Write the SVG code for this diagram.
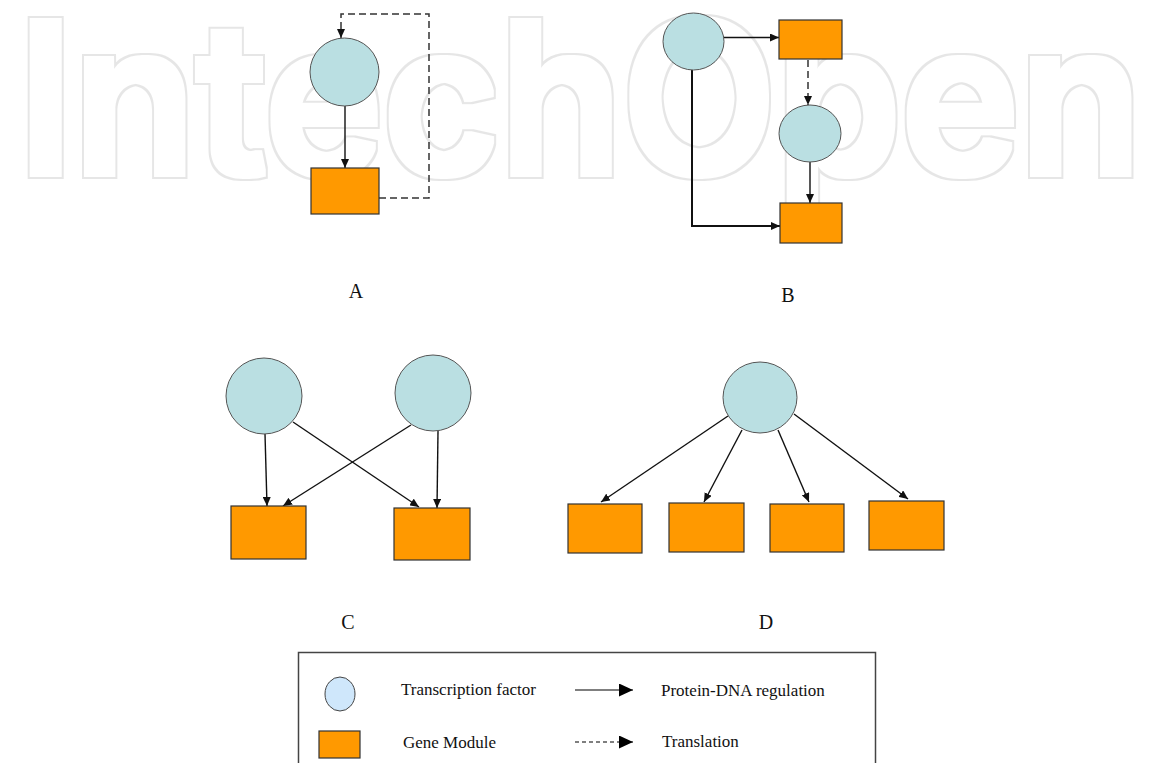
<svg xmlns="http://www.w3.org/2000/svg" width="1151" height="763" viewBox="0 0 1151 763">
<style>
.tf{fill:#badfe2;stroke:#555;stroke-width:1}
.gm{fill:#ff9900;stroke:#333;stroke-width:1.2}
.c{fill:none;stroke:#111;stroke-width:1.4}
.d{fill:none;stroke:#333;stroke-width:1.5;stroke-dasharray:7 4}
.lbl{font-family:"Liberation Serif","Times New Roman",serif;font-size:20px;fill:#111;text-anchor:middle}
.lt{font-family:"Liberation Serif","Times New Roman",serif;font-size:17px;fill:#111}
.wm{font-family:Inter,"Noto Sans",sans-serif;font-weight:600;font-size:210px;fill:#000}
</style>
<defs>
<filter id="ring" x="-5%" y="-20%" width="110%" height="140%">
<feMorphology in="SourceAlpha" operator="dilate" radius="4.5" result="outer"/>
<feMorphology in="SourceAlpha" operator="dilate" radius="3" result="inner"/>
<feComposite in="outer" in2="inner" operator="out" result="band"/>
<feFlood flood-color="#e6e6e6"/>
<feComposite in2="band" operator="in"/>
</filter>
<marker id="ah" markerUnits="userSpaceOnUse" markerWidth="9" markerHeight="8" refX="9" refY="4" orient="auto">
<path d="M0,0 L9,4 L0,8 z" fill="#111"/>
</marker>
<marker id="ahL" markerUnits="userSpaceOnUse" markerWidth="14" markerHeight="13" refX="14" refY="6.5" orient="auto">
<path d="M0,0 L14,6.5 L0,13 z" fill="#000"/>
</marker>
</defs>
<rect width="1151" height="763" fill="#fff"/>
<g id="watermark" filter="url(#ring)">
<text class="wm" x="18" y="174" textLength="1124" lengthAdjust="spacingAndGlyphs">IntechOpen</text>
</g>

<g id="connectors">
<line class="c" x1="345" y1="106" x2="345" y2="168" marker-end="url(#ah)"/>
<path class="d" d="M379,198 H429 V14 H341 V38" marker-end="url(#ah)"/>
<line class="c" x1="724" y1="37.5" x2="779" y2="37.5" marker-end="url(#ah)"/>
<line class="d" x1="808" y1="60" x2="808" y2="105" marker-end="url(#ah)"/>
<line class="c" x1="810" y1="162" x2="810" y2="203" marker-end="url(#ah)"/>
<path class="c" d="M692,70 V226 H780" style="stroke-width:2" marker-end="url(#ah)"/>
<line class="c" x1="265" y1="434" x2="267" y2="506" marker-end="url(#ah)"/>
<line class="c" x1="293" y1="422" x2="419" y2="507" marker-end="url(#ah)"/>
<line class="c" x1="411" y1="425" x2="283" y2="506" marker-end="url(#ah)"/>
<line class="c" x1="438" y1="431" x2="437" y2="508" marker-end="url(#ah)"/>
<line class="c" x1="728" y1="416" x2="601" y2="502" marker-end="url(#ah)"/>
<line class="c" x1="742" y1="430" x2="704" y2="502" marker-end="url(#ah)"/>
<line class="c" x1="778" y1="430" x2="809" y2="502" marker-end="url(#ah)"/>
<line class="c" x1="794" y1="414" x2="908" y2="499" marker-end="url(#ah)"/>
</g>

<g id="A-tf"><ellipse class="tf" cx="344.5" cy="72" rx="34.5" ry="34"/></g>
<g id="A-gm"><rect class="gm" x="311" y="168" width="68" height="46"/></g>
<g id="A-label"><text class="lbl" x="356" y="298">A</text></g>

<g id="B-tf1"><ellipse class="tf" cx="693.5" cy="41.5" rx="30.5" ry="28.5"/></g>
<g id="B-gm1"><rect class="gm" x="779" y="20" width="63" height="39"/></g>
<g id="B-tf2"><ellipse class="tf" cx="810" cy="133.5" rx="31" ry="28.5"/></g>
<g id="B-gm2"><rect class="gm" x="780" y="203" width="62" height="40"/></g>
<g id="B-label"><text class="lbl" x="788" y="302">B</text></g>

<g id="C-tf1"><circle class="tf" cx="264" cy="396" r="38"/></g>
<g id="C-tf2"><circle class="tf" cx="433" cy="393" r="38"/></g>
<g id="C-gm1"><rect class="gm" x="231" y="506" width="75" height="53"/></g>
<g id="C-gm2"><rect class="gm" x="394" y="508" width="76" height="52"/></g>
<g id="C-label"><text class="lbl" x="348" y="629">C</text></g>

<g id="D-tf"><ellipse class="tf" cx="760" cy="397.5" rx="37" ry="35.5"/></g>
<g id="D-gm1"><rect class="gm" x="568" y="504" width="74" height="49"/></g>
<g id="D-gm2"><rect class="gm" x="669" y="503" width="75" height="49"/></g>
<g id="D-gm3"><rect class="gm" x="770" y="504" width="74" height="48"/></g>
<g id="D-gm4"><rect class="gm" x="869" y="501" width="75" height="49"/></g>
<g id="D-label"><text class="lbl" x="766" y="629">D</text></g>

<g id="legend">
<rect x="298.5" y="652.5" width="577" height="130" fill="none" stroke="#444" stroke-width="1.5"/>
<ellipse cx="340" cy="694" rx="15" ry="17" fill="#cfe7fb" stroke="#444" stroke-width="1"/>
<rect x="319" y="731" width="41" height="27" fill="#ff9900" stroke="#333" stroke-width="1.2"/>
<text class="lt" x="401" y="695">Transcription factor</text>
<text class="lt" x="403" y="748">Gene Module</text>
<line x1="575" y1="690" x2="633" y2="690" stroke="#000" stroke-width="1.2" marker-end="url(#ahL)"/>
<line x1="575" y1="742" x2="633" y2="742" stroke="#000" stroke-width="1.2" stroke-dasharray="4 3" marker-end="url(#ahL)"/>
<text class="lt" x="661" y="696">Protein-DNA regulation</text>
<text class="lt" x="662" y="747">Translation</text>
</g>
</svg>
